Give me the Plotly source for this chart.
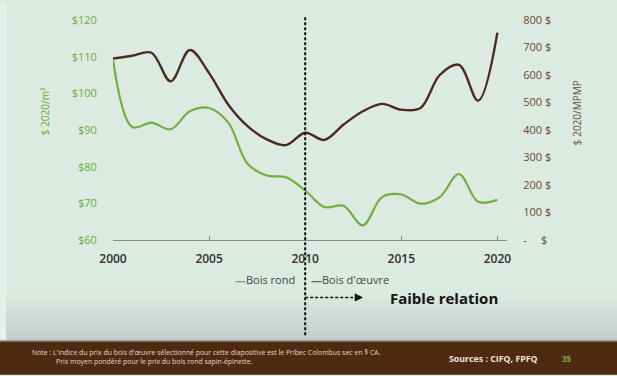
import plotly.graph_objects as go

# ---- data ----
years = list(range(2000, 2021))
bois_rond = [109.2, 90.8, 92.0, 90.2, 95.1, 96.0, 92.0, 80.8, 77.6, 77.1, 73.5,
             69.0, 69.3, 64.0, 71.7, 72.4, 69.9, 71.7, 78.0, 70.4, 71.0]
bois_oeuvre = [660, 670, 681, 577, 691, 607, 492, 414, 366, 345, 390,
               364, 420, 468, 495, 474, 480, 600, 637, 507, 754]
left_ticks = [60, 70, 80, 90, 100, 110, 120]
left_labels = ["$60", "$70", "$80", "$90", "$100", "$110", "$120"]
right_ticks = [0, 100, 200, 300, 400, 500, 600, 700, 800]
right_labels = ["-     $", "100 $", "200 $", "300 $", "400 $", "500 $", "600 $", "700 $", "800 $"]
x_ticks = [2000, 2005, 2010, 2015, 2020]
series_names = ["Bois rond", "Bois d'œuvre"]
split_year = 2010

# ---- layout geometry ----
W, H = 617, 376
L, R, T, B = 113, 110, 18, 136
PW, PH = W - L - R, H - T - B
XR = [2000, 2020.5]

def px_x(px):
    return (px - L) / PW

def px_y(py):
    return (H - B - py) / PH

def data_x_paper(v):
    return (v - XR[0]) / (XR[1] - XR[0])

GREEN = "#70b043"
GREEN_TXT = "#6aab3c"
BROWN = "#4a2c1c"
BROWN_TXT = "#6a4a30"
BG = "#dcebe1"
FONT = "Open Sans"

fig = go.Figure()
fig.add_trace(go.Scatter(x=years, y=bois_rond, name=series_names[0], mode="lines",
                         line=dict(color=GREEN, width=2.2, shape="spline", smoothing=1.0),
                         yaxis="y"))
fig.add_trace(go.Scatter(x=years, y=bois_oeuvre, name=series_names[1], mode="lines",
                         line=dict(color=BROWN, width=2.4, shape="spline", smoothing=1.0),
                         yaxis="y2"))

shapes = []
# left light strip
shapes.append(dict(type="rect", xref="paper", yref="paper", x0=px_x(0), x1=px_x(6),
                   y0=px_y(343), y1=px_y(0), fillcolor="#e6f0ea", line=dict(width=0), layer="below"))
# bottom gradient
n = 14
top, bot = 292, 342
c0 = (0xdc, 0xeb, 0xe1)
c1 = (0xc3, 0xcd, 0xcd)
for i in range(n):
    t = (i + 0.5) / n
    c = tuple(int(c0[k] + (c1[k] - c0[k]) * t) for k in range(3))
    y_a = top + (bot - top) * i / n
    y_b = top + (bot - top) * (i + 1) / n
    shapes.append(dict(type="rect", xref="paper", yref="paper", x0=px_x(6), x1=px_x(W),
                       y0=px_y(y_b), y1=px_y(y_a), fillcolor="rgb(%d,%d,%d)" % c,
                       line=dict(width=0), layer="below"))
# footer
shapes.append(dict(type="rect", xref="paper", yref="paper", x0=px_x(0), x1=px_x(W),
                   y0=px_y(H), y1=px_y(342), fillcolor="#4e2a13", line=dict(width=0), layer="below"))
shapes.append(dict(type="line", xref="paper", yref="paper", x0=px_x(0), x1=px_x(W),
                   y0=px_y(342), y1=px_y(342), line=dict(color="#8a8a80", width=1.5)))
# vertical dashed line at split year
xs = data_x_paper(split_year)
shapes.append(dict(type="line", xref="paper", yref="paper", x0=xs, x1=xs,
                   y0=px_y(336), y1=px_y(14), line=dict(color="#111111", width=2, dash="3px,2px")))
# dashed arrow
ay_p = px_y(298)
shapes.append(dict(type="line", xref="paper", yref="paper", x0=xs, x1=px_x(358),
                   y0=ay_p, y1=ay_p, line=dict(color="#111111", width=1.5, dash="3px,2px")))

annotations = []
annotations.append(dict(xref="paper", yref="paper", x=px_x(363), y=ay_p, ax=-8, ay=0,
                        showarrow=True, arrowhead=2, arrowsize=1.1, arrowwidth=1.5,
                        arrowcolor="#111111", text=""))

def txt(x, y, text, size, color, xanchor="center", angle=0):
    return dict(xref="paper", yref="paper", x=px_x(x), y=px_y(y), text=text,
                xanchor=xanchor, yanchor="middle", textangle=angle, showarrow=False,
                font=dict(family=FONT, size=size, color=color))

annotations.append(txt(444, 299, "<b>Faible relation</b>", 15, "#141414"))
# legend (manual)
annotations.append(txt(297, 280, "<span style='color:%s'><b>—</b></span>%s" % (GREEN, series_names[0]),
                       11, "#444444", xanchor="right"))
annotations.append(txt(309, 280, "<span style='color:%s'><b>—</b></span>%s" % ("#7a5a44", series_names[1]),
                       11, "#444444", xanchor="left"))
# axis titles
annotations.append(txt(45, 110, "$ 2020/m³", 10, GREEN_TXT, angle=-90))
annotations.append(txt(577, 112, "$ 2020/MPMP", 10, BROWN_TXT, angle=-90))
# footer text
annotations.append(txt(30, 354, "Note : L'indice du prix du bois d'œuvre sélectionné pour cette diapositive est le Pribec Colombus sec en $ CA.",
                       6.9, "#e6d6c4", xanchor="left"))
annotations.append(txt(54, 362.5, "Prix moyen pondéré pour le prix du bois rond sapin-épinette.",
                       6.9, "#e6d6c4", xanchor="left"))
annotations.append(txt(447, 360, "<b>Sources : CIFQ, FPFQ</b>", 8.8, "#eee4d6", xanchor="left"))
annotations.append(txt(560, 360, "<b>35</b>", 8, "#7cae3a", xanchor="left"))

fig.update_layout(
    width=W, height=H,
    margin=dict(l=L, r=R, t=T, b=B, pad=0),
    paper_bgcolor=BG, plot_bgcolor="rgba(0,0,0,0)",
    showlegend=False,
    font=dict(family=FONT),
    xaxis=dict(range=XR, tickvals=x_ticks, ticktext=[str(v) for v in x_ticks],
               showgrid=False, zeroline=False, showline=True, linecolor="#8c8c8c", linewidth=1,
               ticks="inside", ticklen=4, tickcolor="#8c8c8c", ticklabelstandoff=8,
               tickfont=dict(family=FONT, size=12, color="#2e2e2e", weight=600)),
    yaxis=dict(range=[60, 120], tickvals=left_ticks, ticktext=left_labels,
               showgrid=False, zeroline=False, showline=False,
               ticks="outside", ticklen=13, tickcolor="rgba(0,0,0,0)",
               tickfont=dict(family=FONT, size=11, color=GREEN_TXT)),
    yaxis2=dict(range=[0, 800], tickvals=right_ticks, ticktext=right_labels,
                overlaying="y", side="right",
                showgrid=False, zeroline=False, showline=False,
                ticks="outside", ticklen=13, tickcolor="rgba(0,0,0,0)",
                tickfont=dict(family=FONT, size=11, color=BROWN_TXT)),
    shapes=shapes,
    annotations=annotations,
)

fig.write_html("out.html", config={"displayModeBar": False},
               post_script="document.body.style.margin='0px';document.body.style.overflow='hidden';")
